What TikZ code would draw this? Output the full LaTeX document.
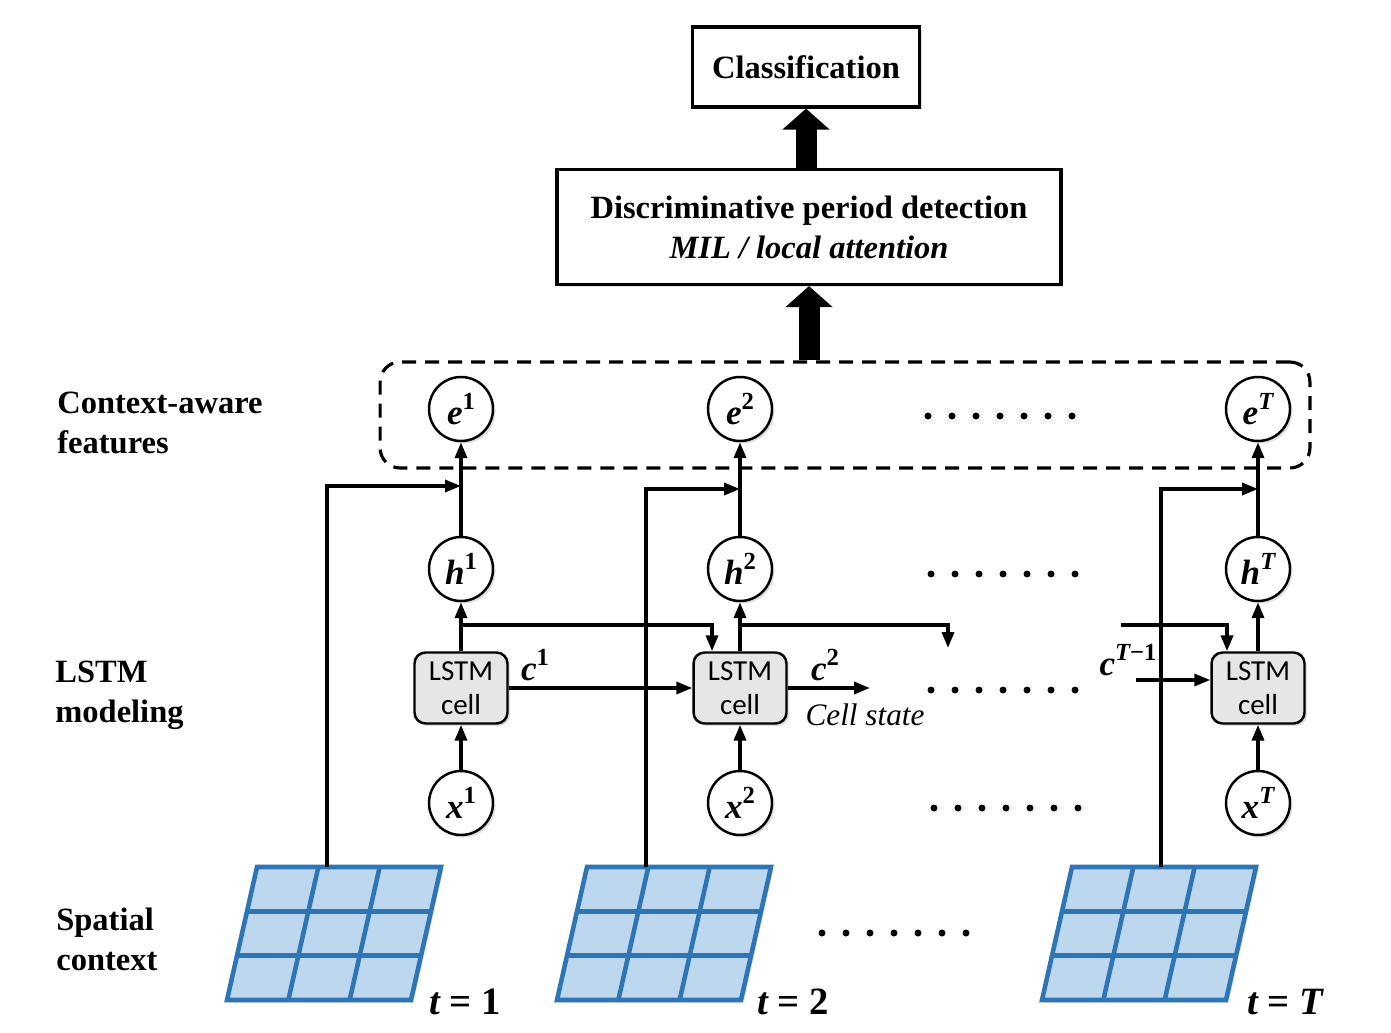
\documentclass[tikz,border=0pt]{standalone}
\usepackage{fontspec}
\setmainfont{Liberation Serif}
\newfontfamily\cellfont{Carlito}
\usepackage{tikz}
\usetikzlibrary{arrows.meta, positioning, calc, shadows}

\definecolor{gridfill}{HTML}{BDD7EE}
\definecolor{gridline}{HTML}{2E75B6}
\definecolor{cellgray}{HTML}{E6E6E6}
\newcommand{\supx}[1]{\raisebox{0.42em}{\fontsize{14}{14}\selectfont #1}}

\begin{document}
\begin{tikzpicture}[x=0.02cm, y=-0.02cm,
    every node/.style={inner sep=0pt},
    headfont/.style={font=\fontsize{18.5}{22.8}\selectfont\bfseries},
    varfont/.style={font=\fontsize{20}{24}\selectfont\bfseries\itshape},
    shade/.style={drop shadow={opacity=0.25, shadow xshift=0.05cm, shadow yshift=-0.05cm}},
    topbox/.style={draw, line width=1.8pt, fill=white, headfont, align=center, shade},
    var/.style={circle, draw, line width=1.4pt, fill=white, minimum size=1.28cm, varfont, shade},
    lstm/.style={draw, rounded corners=0.22cm, line width=1.4pt, fill=cellgray, minimum width=1.86cm,
                 minimum height=1.42cm, align=center, font=\cellfont\fontsize{16.5}{19.5}\selectfont, shade},
    conn/.style={line width=2pt, -{Triangle[length=0.32cm, width=0.24cm]}},
    bigarrow/.style={line width=0.42cm, -{Triangle[length=0.42cm, width=0.92cm]}},
    dashbox/.style={draw, dash pattern=on 0.28cm off 0.18cm, line width=1.8pt, rounded corners=0.4cm,
                    minimum width=18.6cm, minimum height=2.12cm},
    gridcell/.style={draw=gridline, line width=2.6pt, fill=gridfill},
    tlabel/.style={font=\fontsize{22}{26}\selectfont\bfseries\itshape},
  ]
  \useasboundingbox (0,0) rectangle (1391,1033);

  % Top: classification and period detection
  \node[topbox, minimum width=4.54cm, minimum height=1.6cm] (cls) at (806,67) {Classification};
  \node[topbox, minimum width=10.08cm, minimum height=2.3cm] (dpd) at (809,227)
    {Discriminative period detection\\ \textit{MIL / local attention}};

  % Context-aware features
  \node[dashbox] (ctx) at (845,415) {};
  \draw[bigarrow] (ctx.north -| dpd.south) -- (dpd.south);
  \draw[bigarrow] (dpd.north -| cls.south) -- (cls.south);

  % Columns: e, h, LSTM cell, x
  \foreach \i/\cx/\s in {1/461/{\upshape 1}, 2/740/{\upshape 2}, T/1258/T} {
    \node[var] (e\i) at (\cx,409) {e\supx{\s}};
    \node[var] (h\i) at (\cx,569) {h\supx{\s}};
    \node[lstm] (c\i) at (\cx,688) {LSTM\\cell};
    \node[var] (x\i) at (\cx,803) {x\supx{\s}};
    \draw[conn] (x\i) -- (c\i);
    \draw[conn] (c\i) -- (h\i);
    \draw[conn] (h\i) -- (e\i);
  }

  % Dotted gaps
  \foreach \y/\x in {416/928, 574/931, 690/931, 808/934, 933/822} {
    \foreach \k in {0,...,6} {
      \fill (\x+\k*24,\y) circle (0.07cm);
    }
  }

  % Spatial context grids
  \foreach \gx/\n/\sx in {227/1/327, 557/2/646, 1042/T/1161} {
    \coordinate (ga\n) at (\gx,1000);
    \coordinate (gb\n) at (\gx+184,1000);
    \coordinate (gc\n) at (\gx+214,867);
    \coordinate (gd\n) at (\gx+30,867);
    \draw[gridcell, shade] (ga\n) -- (gb\n) -- (gc\n) -- (gd\n) -- cycle;
    \foreach \k in {1,2} {
      \draw[gridcell] ($(ga\n)!\k/3!(gd\n)$) -- ($(gb\n)!\k/3!(gc\n)$);
      \draw[gridcell] ($(ga\n)!\k/3!(gb\n)$) -- ($(gd\n)!\k/3!(gc\n)$);
    }
    \coordinate (s\n) at (\sx,867);
  }
  \node[tlabel] (t1) at (465,1002) {t {\upshape = 1}};
  \node[tlabel] (t2) at (793,1002) {t {\upshape = 2}};
  \node[tlabel] (tT) at (1285,1002) {t {\upshape =} T};

  % Spatial context into features
  \coordinate (j1) at (461,486);
  \coordinate (j2) at (740,489);
  \coordinate (jT) at (1258,489);
  \draw[conn] (s1) |- (j1);
  \draw[conn] (s2) |- (j2);
  \draw[conn] (sT) |- (jT);

  % Hidden state to next cell
  \coordinate (k1) at (461,625);
  \coordinate (k2) at (740,625);
  \coordinate (kT) at (1121,625);
  \coordinate (r2) at (948,648);
  \draw[conn] (k1) -| ([xshift=-0.56cm]c2.north);
  \draw[conn] (k2) -| (r2);
  \draw[conn] (kT) -| ([xshift=-0.62cm]cT.north);

  % Cell state
  \coordinate (r3) at (870,688);
  \coordinate (q3) at (1136,680);
  \draw[conn] (c1) -- (c2);
  \draw[conn] (c2) -- (r3);
  \draw[conn] (q3) -- (cT.west |- q3);
  \node[varfont] (lc1) at (535,665) {c\supx{\upshape 1}};
  \node[varfont] (lc2) at (825,665) {c\supx{\upshape 2}};
  \node[varfont] (lcT) at (1128,660) {c\supx{T\upshape −1}};
  \node[font=\fontsize{17.8}{21}\selectfont\itshape] (cst) at (865,715) {Cell state};

  % Row labels
  \node[headfont, align=left, anchor=west] (lctx) at (57,423) {Context-aware\\features};
  \node[headfont, align=left, anchor=west] (llstm) at (55,695) {LSTM\\modeling};
  \node[headfont, align=left, anchor=west] (lsp) at (56,939) {Spatial\\context};
\end{tikzpicture}
\end{document}
